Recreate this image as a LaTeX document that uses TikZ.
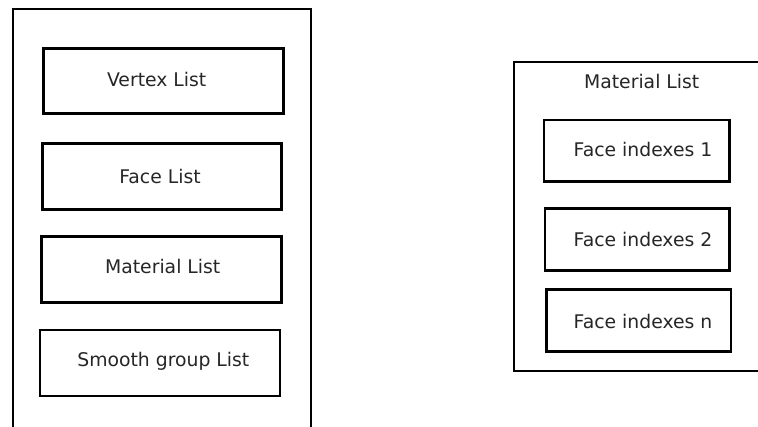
\documentclass[tikz,border=0pt]{standalone}
\usepackage{fontspec}
\setmainfont{DejaVu Sans}
\begin{document}
\begin{tikzpicture}[x=1pt,y=-1pt,
  frame/.style={draw=black,line width=2.2pt,inner sep=0pt},
  item/.style={draw=black,line width=2.8pt,inner sep=0pt},
  txt/.style={font=\fontsize{18.8}{22}\selectfont,text=black!85,inner sep=0pt,anchor=base}]
\useasboundingbox (0,0) rectangle (758,427);
\clip (0,0) rectangle (758,427);

% mesh container (runs past the bottom edge)
\node[frame,minimum width=298pt,minimum height=441pt] (mesh) at (161.7,229.8) {};
\node[item,minimum width=240pt,minimum height=65pt] (vertex) at (163.3,80.8) {};
\node[item,minimum width=239pt,minimum height=66pt] (face) at (162.2,176.3) {};
\node[item,minimum width=240pt,minimum height=65.6pt] (material) at (161.7,269.5) {};
\node[item,minimum width=240pt,minimum height=66pt] (smooth) at (160,363) {};
\node[txt] (tvertex) at (156.7,86.8) {Vertex List};
\node[txt] (tface) at (160,183.3) {Face List};
\node[txt] (tmaterial) at (162.7,273.3) {Material List};
\node[txt] (tsmooth) at (163.3,366.8) {Smooth group List};

% material container (runs past the right edge)
\node[frame,minimum width=266pt,minimum height=309pt] (matlist) at (647,216.2) {};
\node[txt] (tmatlist) at (641.7,88.3) {Material List};
\node[item,minimum width=185.3pt,minimum height=61.7pt] (fi1) at (636.7,150.8) {};
\node[item,minimum width=184.3pt,minimum height=62.4pt] (fi2) at (637.2,239.5) {};
\node[item,minimum width=184.3pt,minimum height=62.4pt] (fin) at (638.8,320.5) {};
\node[txt] (tfi1) at (643,156.8) {Face indexes 1};
\node[txt] (tfi2) at (643,246.8) {Face indexes 2};
\node[txt] (tfin) at (643,328.3) {Face indexes n};
\end{tikzpicture}
\end{document}
